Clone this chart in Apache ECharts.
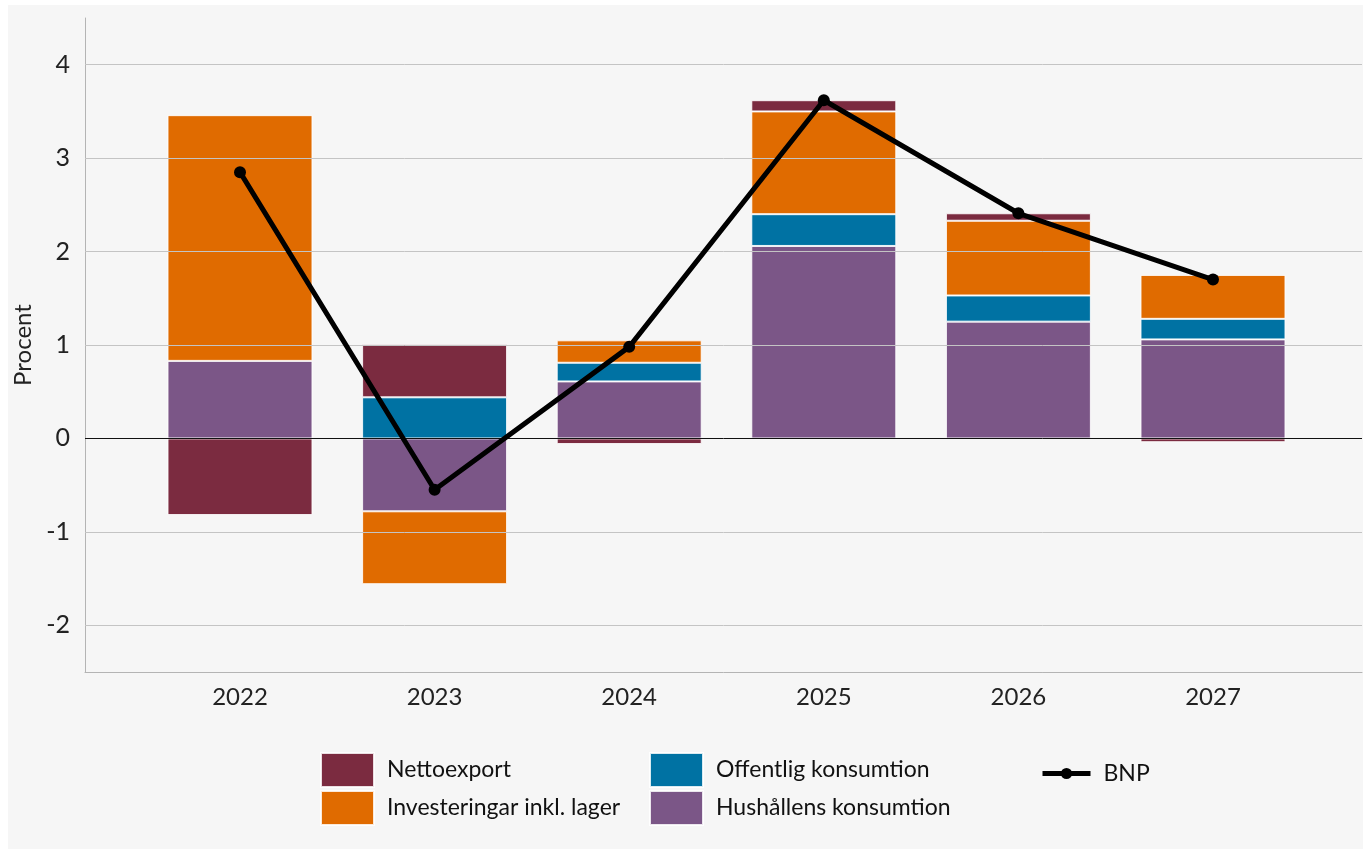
<!DOCTYPE html>
<html>
<head>
<meta charset="utf-8">
<script src="https://cdn.jsdelivr.net/npm/echarts@6/dist/echarts.min.js"></script>
<style>
	body { margin: 0; background: #fff; }
	.panel { position: absolute; left: 8px; top: 5px; width: 1355px; height: 844px; background: #f6f6f6; }
	#main { position: absolute; left: 0; top: 0; width: 1363px; height: 849px; }
</style>
</head>
<body>
<div class="panel"></div>
<div id="main"></div>
<script type="text/javascript">
	// data (procentenheter)
	var years = ['2022', '2023', '2024', '2025', '2026', '2027'];
	var hushall = [0.83, -0.78, 0.61, 2.06, 1.25, 1.06];
	var offentlig = [null, 0.44, 0.20, 0.34, 0.28, 0.22];
	var investeringar = [2.63, -0.78, 0.24, 1.10, 0.80, 0.47];
	var nettoexport = [-0.82, 0.57, -0.06, 0.12, 0.08, -0.04];
	var bnp = [2.85, -0.55, 0.98, 3.62, 2.41, 1.70];
	var gridValues = [-2, -1, 1, 2, 3, 4];

	var font = 'Lato';
	var barItem = function (color) {
		return { color: color, borderColor: 'rgba(255,255,255,0.85)', borderWidth: 1 };
	};
	var legendText = { fontSize: 23, color: '#111', padding: [0, 0, 0, 8], fontFamily: font };

	var myChart = echarts.init(document.getElementById('main'));
	myChart.setOption({
		animation: false,
		textStyle: { fontFamily: font },
		grid: [
			// ram med axellinjer och stödlinjer
			{ left: 85, right: 1, top: 18, bottom: 177 },
			// staplar och linje
			{ left: 142.7, right: 52.7, top: 18, bottom: 177 }
		],
		legend: [
			{
				orient: 'vertical', left: 315, top: 747, itemWidth: 53, itemHeight: 34, itemGap: 2,
				icon: 'rect', textStyle: legendText,
				data: ['Nettoexport', 'Investeringar inkl. lager']
			},
			{
				orient: 'vertical', left: 644, top: 747, itemWidth: 53, itemHeight: 34, itemGap: 2,
				icon: 'rect', textStyle: legendText,
				data: ['Offentlig konsumtion', 'Hushållens konsumtion']
			},
			{
				orient: 'vertical', left: 1035, top: 757, itemWidth: 48, itemHeight: 14,
				textStyle: legendText,
				lineStyle: { width: 5, color: '#000' },
				data: ['BNP']
			}
		],
		xAxis: [
			{
				type: 'category', gridIndex: 0, data: [''],
				axisLine: { onZero: false, lineStyle: { color: '#b4b4b4' } },
				axisTick: { show: false }, axisLabel: { show: false }
			},
			{
				type: 'category', gridIndex: 1, data: years,
				axisLine: { show: false },
				axisTick: { show: false },
				axisLabel: { fontSize: 24, color: '#222', margin: 13 }
			}
		],
		yAxis: [
			{
				type: 'value', gridIndex: 0,
				min: -2.5, max: 4.5, interval: 0.5,
				name: 'Procent',
				nameLocation: 'middle',
				nameGap: 44,
				nameTextStyle: { fontSize: 24, color: '#222' },
				axisLine: { show: true, lineStyle: { color: '#b4b4b4' } },
				axisTick: { show: false },
				splitLine: { show: false },
				axisLabel: {
					fontSize: 25, color: '#222', margin: 15,
					formatter: function (v) { return Number.isInteger(v) ? String(v) : ''; }
				}
			},
			{
				type: 'value', gridIndex: 1,
				min: -2.5, max: 4.5, interval: 0.5,
				show: false
			}
		],
		series: [
			{
				// hjälpserie för stödlinjer
				name: 'grid', type: 'line', xAxisIndex: 0, yAxisIndex: 0,
				data: [null], z: 1, silent: true,
				markLine: {
					silent: true, symbol: 'none', label: { show: false },
					lineStyle: { color: '#c4c4c4', type: 'solid', width: 1 },
					data: gridValues.map(function (v) { return { yAxis: v }; })
				}
			},
			{ name: 'Hushållens konsumtion', type: 'bar', xAxisIndex: 1, yAxisIndex: 1, stack: 'a', barWidth: '74.5%', z: 2, data: hushall, itemStyle: barItem('#7b5687') },
			{ name: 'Offentlig konsumtion', type: 'bar', xAxisIndex: 1, yAxisIndex: 1, stack: 'a', z: 2, data: offentlig, itemStyle: barItem('#0072a3') },
			{ name: 'Investeringar inkl. lager', type: 'bar', xAxisIndex: 1, yAxisIndex: 1, stack: 'a', z: 2, data: investeringar, itemStyle: barItem('#e06b00') },
			{ name: 'Nettoexport', type: 'bar', xAxisIndex: 1, yAxisIndex: 1, stack: 'a', z: 2, data: nettoexport, itemStyle: barItem('#7b2b40') },
			{
				name: 'zero', type: 'line', xAxisIndex: 0, yAxisIndex: 0,
				data: [null], z: 3, silent: true,
				markLine: {
					silent: true, symbol: 'none', label: { show: false },
					lineStyle: { color: '#111', type: 'solid', width: 1 },
					data: [{ yAxis: 0 }]
				}
			},
			{
				name: 'BNP', type: 'line', xAxisIndex: 1, yAxisIndex: 1,
				data: bnp, z: 5,
				symbol: 'circle', symbolSize: 12,
				lineStyle: { color: '#000', width: 5 },
				itemStyle: { color: '#000' }
			}
		]
	});
</script>
</body>
</html>
